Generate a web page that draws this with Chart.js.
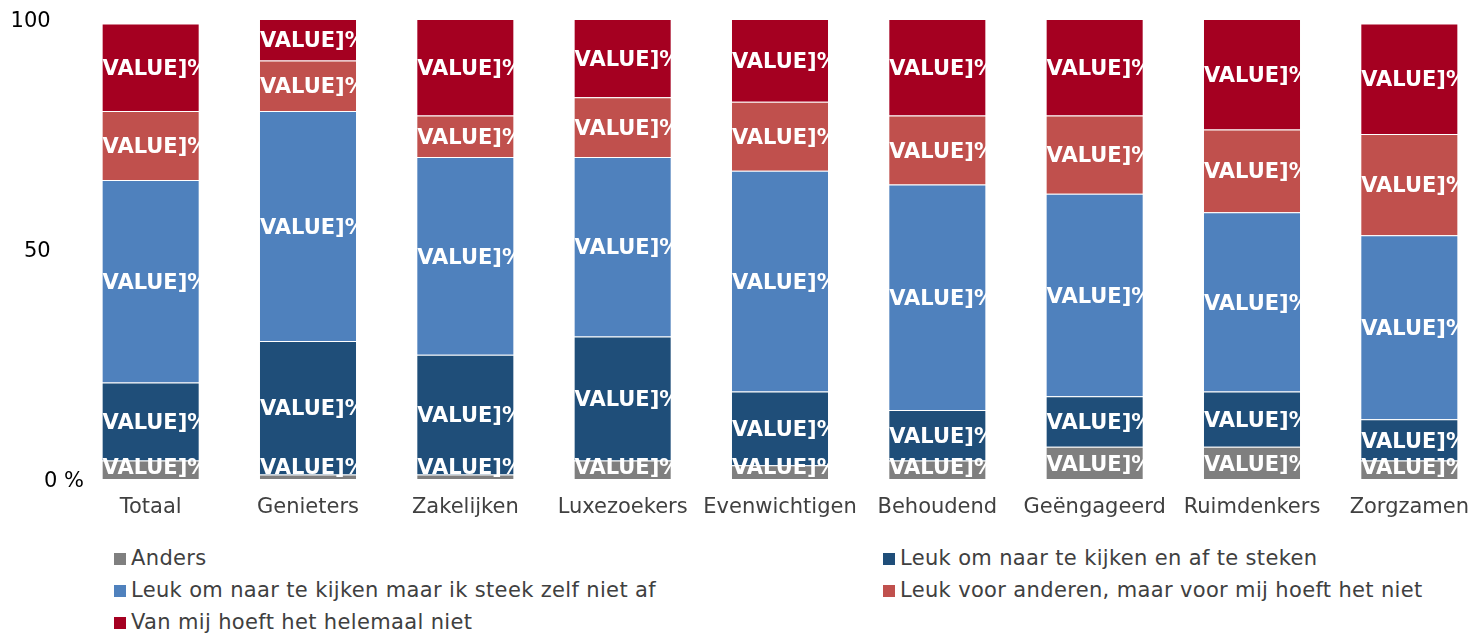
<!DOCTYPE html>
<html lang="nl">
<head>
<meta charset="utf-8">
<title>Segmenten</title>
<script src="https://cdn.jsdelivr.net/npm/chart.js@4.4.1/dist/chart.umd.min.js"></script>
<style>
  html, body { margin: 0; padding: 0; background: #fff; overflow: hidden; }
  #wrap { position: absolute; left: 0; top: 0; width: 1488px; height: 540px; }
  #legenda {
    position: absolute; top: 542px; left: 114px;
    display: grid; grid-template-columns: 769px auto;
    font-family: "DejaVu Sans", Verdana, sans-serif; font-size: 21px;
    letter-spacing: 0.35px;
    line-height: 32px; color: #404040; white-space: nowrap;
  }
  #legenda span.blok {
    display: inline-block; width: 12px; height: 12px; margin-right: 5px;
    vertical-align: 0px;
  }
</style>
</head>
<body>
<div id="wrap"><canvas id="grafiek"></canvas></div>
<div id="legenda"></div>
<script>
const segmenten = ["Totaal", "Genieters", "Zakelijken", "Luxezoekers", "Evenwichtigen", "Behoudend", "Geëngageerd", "Ruimdenkers", "Zorgzamen"];

const anders       = [4, 1, 1, 4, 3, 4, 7, 7, 4];
const kijkenSteken = [17, 29, 26, 27, 16, 11, 11, 12, 9];
const alleenKijken = [44, 50, 43, 39, 48, 49, 44, 39, 40];
const voorAnderen  = [15, 11, 9, 13, 15, 15, 17, 18, 22];
const helemaalNiet = [19, 9, 21, 17, 18, 21, 21, 24, 24];

const yWaarden = [0, 50, 100];
const yLabels = ["0 %", "50     ", "100     "];
const labelTekst = "[VALUE]%";

const reeksen = [
  { label: "Anders", data: anders, kleur: "#7f7f7f" },
  { label: "Leuk om naar te kijken en af te steken", data: kijkenSteken, kleur: "#1f4e79" },
  { label: "Leuk om naar te kijken maar ik steek zelf niet af", data: alleenKijken, kleur: "#4f81bd" },
  { label: "Leuk voor anderen, maar voor mij hoeft het niet", data: voorAnderen, kleur: "#c0504d" },
  { label: "Van mij hoeft het helemaal niet", data: helemaalNiet, kleur: "#a50021" }
];

const fontFam = '"DejaVu Sans", Verdana, sans-serif';
const capHalf = 21 * 0.73 / 2;   // halve kapitaalhoogte bij 21px

// labels in de balken, afgekapt op de breedte van de balk (zoals in Excel)
const waardeLabels = {
  id: "waardeLabels",
  afterDatasetsDraw(chart) {
    const { ctx, chartArea } = chart;
    chart.data.datasets.forEach((ds, i) => {
      const meta = chart.getDatasetMeta(i);
      meta.data.forEach(bar => {
        const { x, y, base, width } = bar.getProps(["x", "y", "base", "width"], true);
        let cy = (y + base) / 2;
        cy = Math.min(cy, chartArea.bottom - 13);
        cy = Math.max(cy, chartArea.top + 13);
        ctx.save();
        ctx.beginPath();
        ctx.rect(x - width / 2 - 1.5, chartArea.top - 5, width + 3, chartArea.height + 10);
        ctx.clip();
        ctx.fillStyle = "#ffffff";
        ctx.font = "bold 21px " + fontFam;
        ctx.textAlign = "center";
        ctx.textBaseline = "alphabetic";
        ctx.fillText(labelTekst, x, cy + capHalf);
        ctx.restore();
      });
    });
  }
};

// y-as labels zelf tekenen, "0 %" steekt uit tot in het plotgebied
const yAsLabels = {
  id: "yAsLabels",
  afterDraw(chart) {
    const { ctx, chartArea } = chart;
    const y = chart.scales.y;
    ctx.save();
    ctx.fillStyle = "#000000";
    ctx.font = "21px " + fontFam;
    ctx.textAlign = "right";
    ctx.textBaseline = "alphabetic";
    yWaarden.forEach((v, i) => {
      ctx.fillText(yLabels[i], chartArea.left + 12, y.getPixelForValue(v) + capHalf);
    });
    ctx.restore();
  }
};

new Chart(document.getElementById("grafiek"), {
  type: "bar",
  data: {
    labels: segmenten,
    datasets: reeksen.map(r => ({
      label: r.label,
      data: r.data,
      backgroundColor: r.kleur,
      borderColor: "rgba(255,255,255,0.2)",
      borderWidth: 1,
      borderSkipped: "start",
      categoryPercentage: 1,
      barPercentage: 0.623
    }))
  },
  options: {
    responsive: true,
    maintainAspectRatio: false,
    animation: false,
    layout: { padding: { top: 19, left: 0, right: 0, bottom: 0 } },
    plugins: {
      legend: { display: false },
      tooltip: { enabled: false }
    },
    scales: {
      x: {
        stacked: true,
        grid: { display: false, drawTicks: false },
        border: { display: false },
        ticks: {
          color: "#404040",
          font: { family: fontFam, size: 21 },
          padding: 16,
          maxRotation: 0,
          autoSkip: false
        },
        afterFit(scale) { scale.height = 61; }
      },
      y: {
        stacked: true,
        min: 0,
        max: 100,
        grid: { display: false, drawTicks: false },
        border: { display: false },
        ticks: { stepSize: 50, display: false },
        afterFit(scale) { scale.width = 72; }
      }
    }
  },
  plugins: [waardeLabels, yAsLabels]
});

document.getElementById("legenda").innerHTML = reeksen
  .map(r => `<div><span class="blok" style="background:${r.kleur}"></span>${r.label}</div>`)
  .join("");
</script>
</body>
</html>
